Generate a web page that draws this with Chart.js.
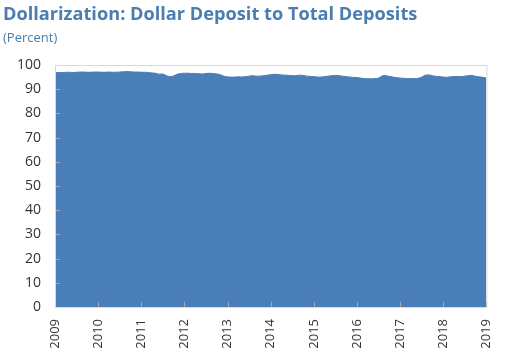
<!DOCTYPE html>
<html>
<head>
<meta charset="utf-8">
<script src="https://cdn.jsdelivr.net/npm/chart.js@4"></script>
<style>
html, body { margin: 0; padding: 0; background: #fff; }
#wrap { position: relative; width: 506px; height: 352px; }
#title { position: absolute; left: 3px; top: 1px; font: bold 18.2px "Open Sans", sans-serif; color: #4a7eb0; white-space: nowrap; }
#sub { position: absolute; left: 3px; top: 28px; font: 13px "Open Sans", sans-serif; color: #4a7eb0; }
canvas { position: absolute; left: 0; top: 0; }
</style>
</head>
<body>
<div id="wrap">
<canvas id="c" width="506" height="352"></canvas>
<div id="title">Dollarization: Dollar Deposit to Total Deposits</div>
<div id="sub">(Percent)</div>
</div>
<script>
const years = ['2009', '2010', '2011', '2012', '2013', '2014', '2015', '2016', '2017', '2018', '2019'];

// monthly share of dollar deposits, Jan 2009 .. Jan 2019
const v2009 = [96.8, 96.9, 96.9, 97.0, 97.0, 96.9, 97.0, 97.1, 97.1, 97.0, 97.0, 97.1];
const v2010 = [97.1, 97.0, 97.0, 97.1, 97.0, 97.0, 97.1, 97.2, 97.3, 97.2, 97.1, 97.1];
const v2011 = [97.0, 97.0, 96.9, 96.7, 96.6, 96.2, 96.3, 95.6, 95.2, 95.5, 96.2, 96.5];
const v2012 = [96.6, 96.6, 96.5, 96.5, 96.4, 96.3, 96.5, 96.6, 96.5, 96.3, 96.0, 95.4];
const v2013 = [95.1, 95.0, 95.0, 95.1, 95.0, 95.2, 95.4, 95.6, 95.4, 95.4, 95.6, 95.8];
const v2014 = [96.0, 96.2, 96.1, 95.9, 95.8, 95.7, 95.6, 95.6, 95.8, 95.7, 95.4, 95.3];
const v2015 = [95.2, 95.0, 95.0, 95.2, 95.4, 95.6, 95.7, 95.6, 95.4, 95.2, 95.0, 94.9];
const v2016 = [94.8, 94.6, 94.4, 94.3, 94.3, 94.4, 94.6, 95.5, 95.6, 95.3, 95.0, 94.8];
const v2017 = [94.6, 94.5, 94.4, 94.4, 94.4, 94.5, 95.0, 95.8, 95.9, 95.6, 95.3, 95.2];
const v2018 = [95.0, 94.9, 95.1, 95.2, 95.3, 95.2, 95.4, 95.6, 95.7, 95.3, 95.1, 94.9];
const v2019 = [94.6];

const yTicks = [0, 10, 20, 30, 40, 50, 60, 70, 80, 90, 100];

const values = [].concat(v2009, v2010, v2011, v2012, v2013, v2014, v2015, v2016, v2017, v2018, v2019);
const labels = [];
years.forEach(y => {
  for (let m = 1; m <= 12; m++) labels.push(y + '-' + String(m).padStart(2, '0'));
});
labels.length = values.length;

// short inner tick marks and light frame, like the original
const innerTicks = {
  id: 'innerTicks',
  afterDatasetsDraw(chart) {
    const { ctx, chartArea, scales } = chart;
    ctx.save();
    ctx.strokeStyle = '#a6a6a6';
    ctx.lineWidth = 1;
    ctx.beginPath();
    yTicks.forEach(t => {
      const y = Math.round(scales.y.getPixelForValue(t)) + 0.5;
      ctx.moveTo(chartArea.left, y);
      ctx.lineTo(chartArea.left + 5, y);
    });
    labels.forEach((l, i) => {
      if (!l.endsWith('-01')) return;
      const x = Math.round(scales.x.getPixelForValue(i)) + 0.5;
      ctx.moveTo(x, chartArea.bottom);
      ctx.lineTo(x, chartArea.bottom - 5);
    });
    ctx.stroke();
    ctx.strokeStyle = '#d9d9d9';
    ctx.strokeRect(chartArea.left + 0.5, chartArea.top + 0.5, chartArea.width, chartArea.height);
    ctx.restore();
  }
};

new Chart(document.getElementById('c'), {
  type: 'line',
  data: {
    labels: labels,
    datasets: [{
      data: values,
      borderColor: '#4a7eb8',
      backgroundColor: '#4a7eb8',
      borderWidth: 1,
      pointRadius: 0,
      tension: 0.3,
      fill: 'origin'
    }]
  },
  options: {
    responsive: false,
    animation: false,
    layout: { padding: { top: 65, right: 15, left: 0, bottom: 0 } },
    plugins: { legend: { display: false }, tooltip: { enabled: false } },
    scales: {
      x: {
        offset: false,
        grid: { display: false },
        border: { display: false },
        afterFit: s => { s.height = 45; },
        ticks: {
          autoSkip: false,
          maxRotation: 90,
          minRotation: 90,
          padding: 4,
          color: '#333',
          font: { family: 'Open Sans', size: 13 },
          callback: function (v, i) {
            const l = labels[i];
            return l.endsWith('-01') ? l.slice(0, 4) : null;
          }
        }
      },
      y: {
        min: 0,
        max: 100,
        grid: { display: false },
        border: { display: false },
        afterFit: s => { s.width = 55; },
        afterBuildTicks: s => { s.ticks = yTicks.map(v => ({ value: v })); },
        ticks: {
          padding: 6,
          color: '#333',
          font: { family: 'Open Sans', size: 14 }
        }
      }
    }
  },
  plugins: [innerTicks]
});
</script>
</body>
</html>
